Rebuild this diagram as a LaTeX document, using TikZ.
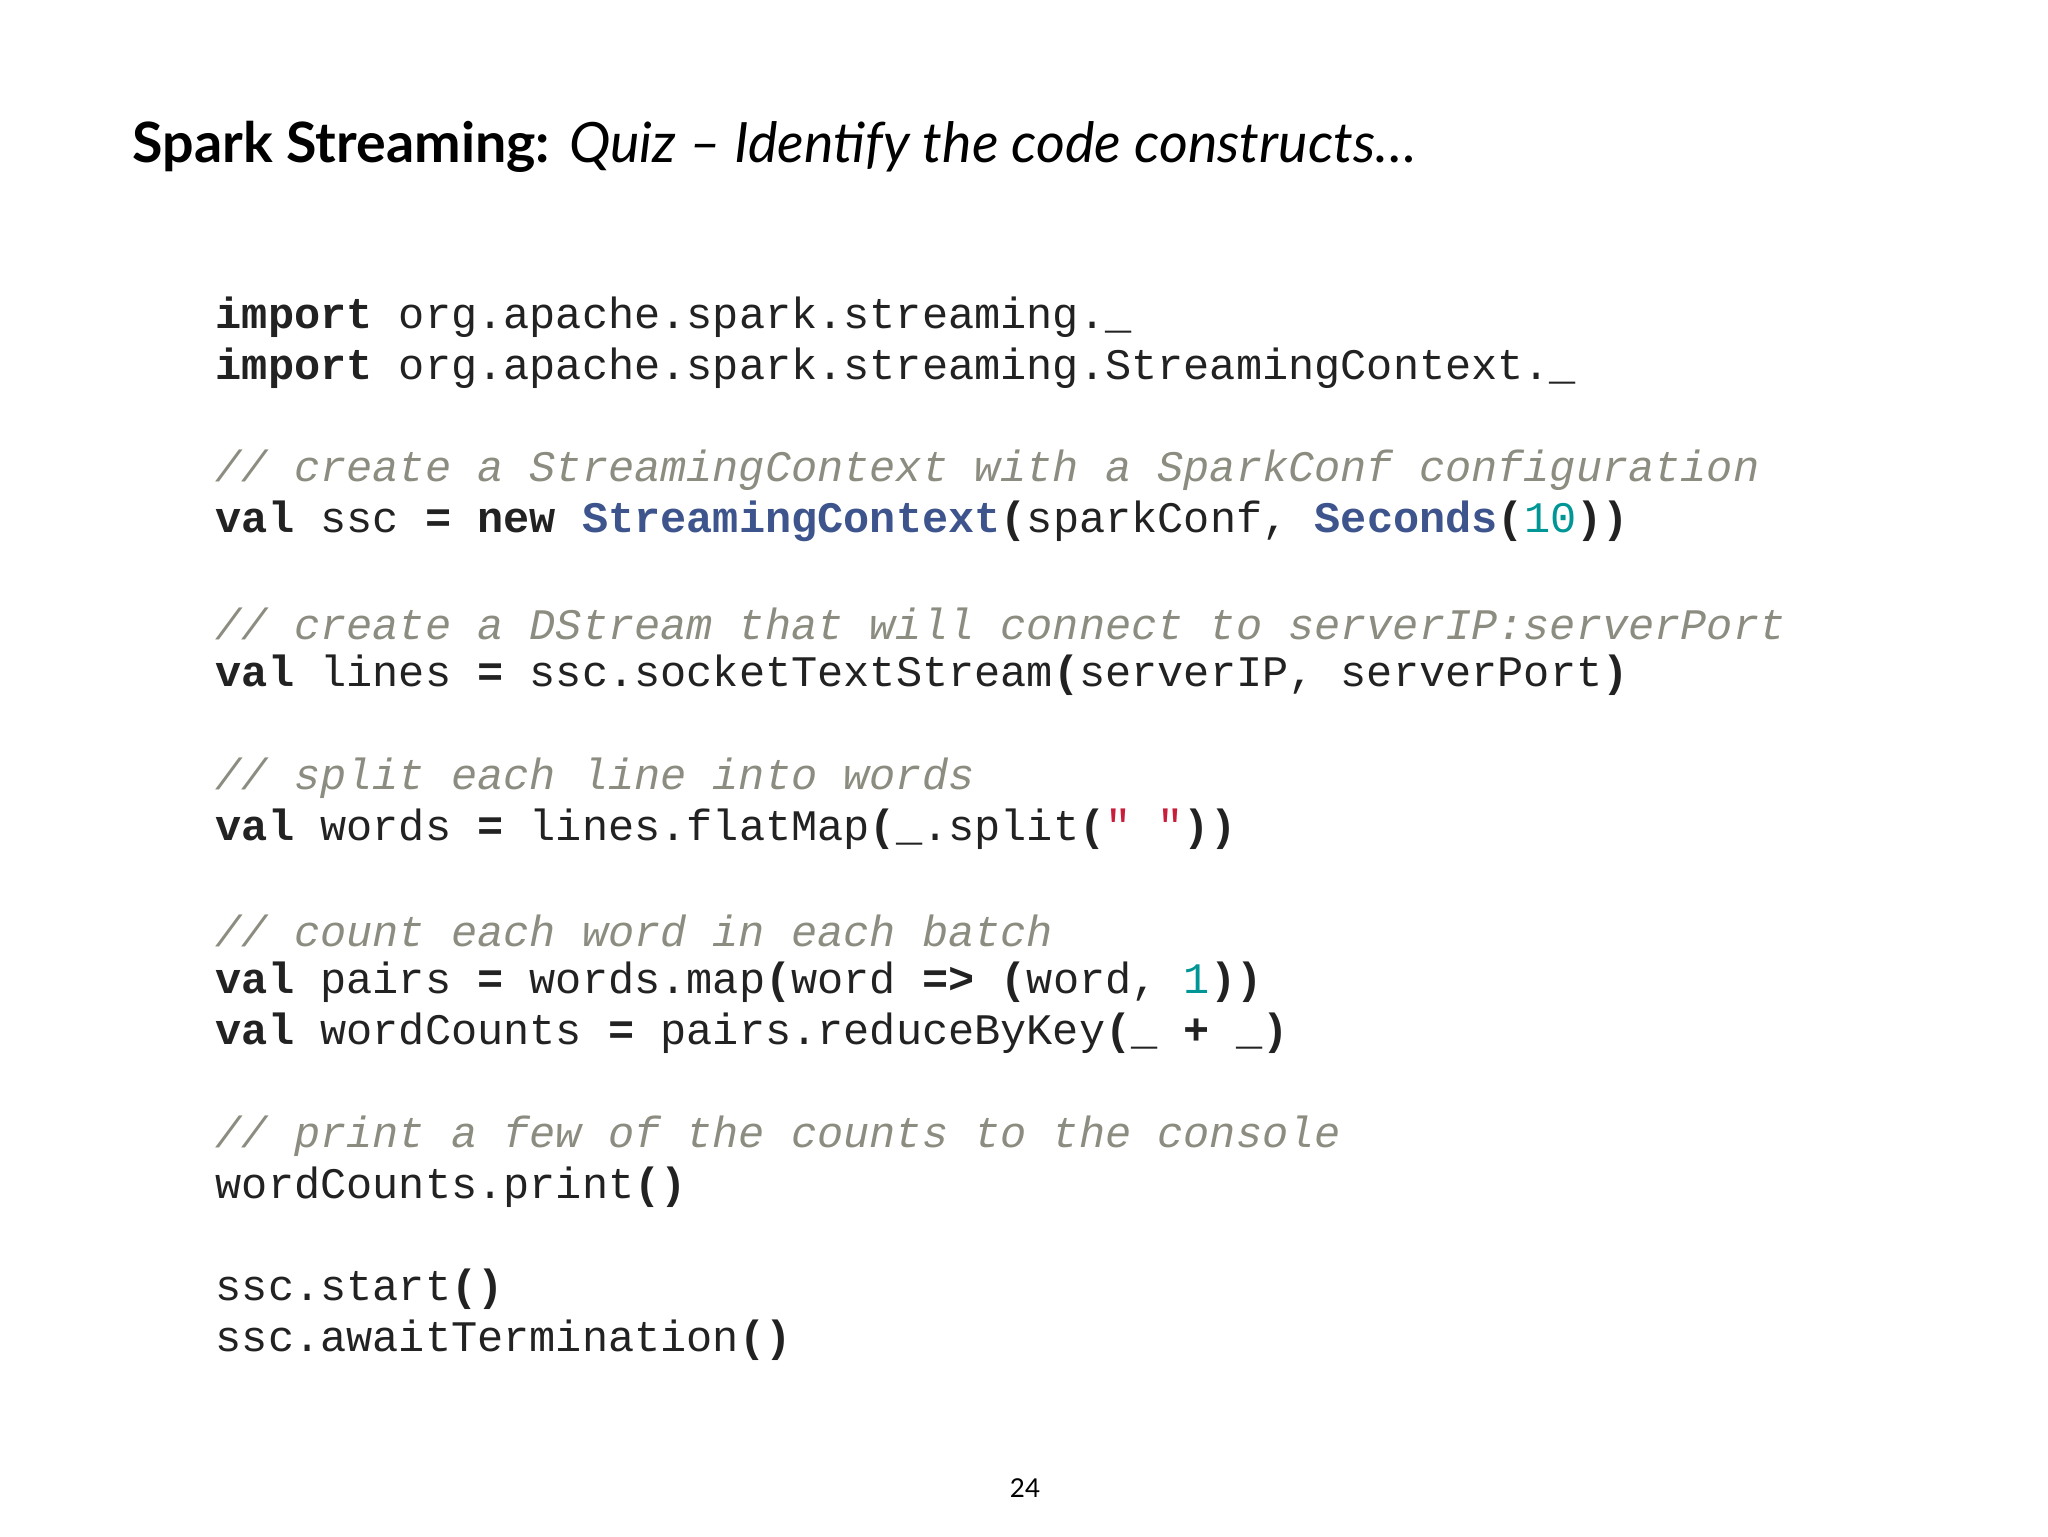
\documentclass[tikz,border=0pt]{standalone}
\usepackage{fontspec}
\setmainfont{Lato}
\setmonofont{Liberation Mono}
\definecolor{cmt}{RGB}{140,140,128}
\definecolor{txt}{RGB}{34,34,34}
\definecolor{cls}{RGB}{62,84,140}
\definecolor{num}{RGB}{0,150,150}
\definecolor{str}{RGB}{200,30,60}
\newcommand{\kw}[1]{{\bfseries #1}}
\newcommand{\cm}[1]{{\color{cmt}\itshape #1}}
\newcommand{\cl}[1]{{\bfseries\color{cls}#1}}
\newcommand{\nm}[1]{{\color{num}#1}}
\begin{document}
\begin{tikzpicture}[x=0.25pt,y=-0.25pt,
  code/.style={anchor=west,inner sep=0,font=\ttfamily\fontsize{10.9}{13}\selectfont,text=txt}]
\useasboundingbox (0,0) rectangle (2048,1536);
\node[anchor=west,inner sep=0,font=\fontsize{13.9}{16}\selectfont] (title) at (132,147)
 {\textbf{Spark Streaming:} \textit{Quiz – Identify the code constructs…}};
\node[code] (l1) at (215,317) {\kw{import} org.apache.spark.streaming.\_};
\node[code] (l2) at (215,368) {\kw{import} org.apache.spark.streaming.StreamingContext.\_};
\node[code] (l3) at (215,470) {\cm{// create a StreamingContext with a SparkConf configuration}};
\node[code] (l4) at (215,521) {\kw{val} ssc \kw{=} \kw{new} \cl{StreamingContext}\kw{(}sparkConf, \cl{Seconds}\kw{(}\nm{10}\kw{))}};
\node[code] (l5) at (215,624) {\cm{// create a DStream that will connect to serverIP:serverPort}};
\node[code] (l6) at (215,675) {\kw{val} lines \kw{=} ssc.socketTextStream\kw{(}serverIP, serverPort\kw{)}};
\node[code] (l7) at (215,778) {\cm{// split each line into words}};
\node[code] (l8) at (215,829) {\kw{val} words \kw{=} lines.flatMap\kw{(}\_.split\kw{(}{\color{str}" "}\kw{))}};
\node[code] (l9) at (215,931) {\cm{// count each word in each batch}};
\node[code] (l10) at (215,982) {\kw{val} pairs \kw{=} words.map\kw{(}word \kw{=>} \kw{(}word, \nm{1}\kw{))}};
\node[code] (l11) at (215,1033) {\kw{val} wordCounts \kw{=} pairs.reduceByKey\kw{(}\_ \kw{+} \_\kw{)}};
\node[code] (l12) at (215,1136) {\cm{// print a few of the counts to the console}};
\node[code] (l13) at (215,1187) {wordCounts.print\kw{()}};
\node[code] (l14) at (215,1289) {ssc.start\kw{()}};
\node[code] (l15) at (215,1340) {ssc.awaitTermination\kw{()}};
\node[inner sep=0,font=\fontsize{6.5}{8}\selectfont] (pg) at (1025,1488) {24};
\end{tikzpicture}
\end{document}
